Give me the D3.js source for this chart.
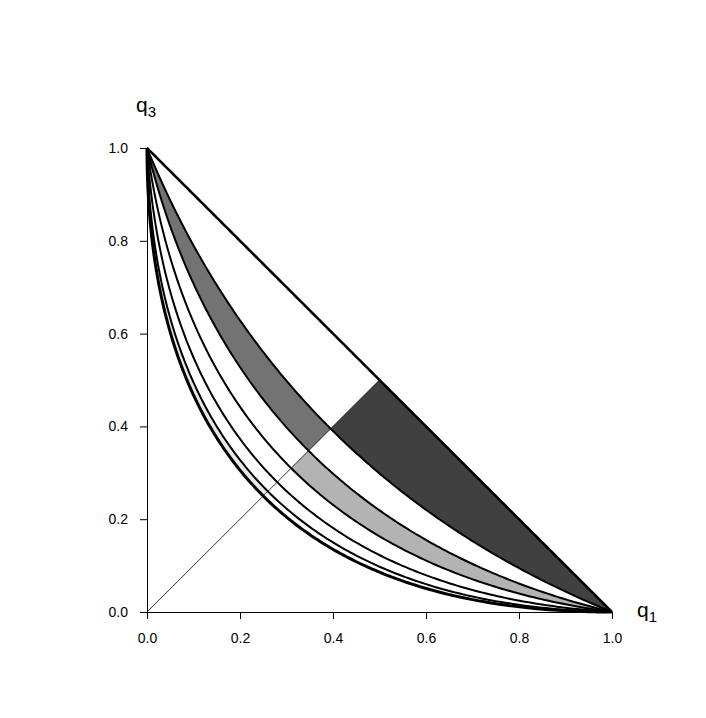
<!DOCTYPE html>
<html>
<head>
<meta charset="utf-8">
<script src="https://cdn.jsdelivr.net/npm/d3@7"></script>
<style>
  html, body { margin: 0; padding: 0; background: #fff; }
  svg { display: block; }
</style>
</head>
<body>
<svg id="chart" width="706" height="718"></svg>
<script>
// ---- data ----
// inbreeding coefficient F of each curve (F = 1 is the straight boundary q1 + q3 = 1)
const curveF = [1, 0.58, 0.39, 0.24, 0.12, 0.04, 0];
// shaded bands: between curve index a and curve index b, on one side of the diagonal q1 = q3
const bandOuter = [0, 1, 2, 5];
const bandInner = [1, 2, 3, 6];
const bandSide  = ["right", "left", "right", "left"];
const bandFill  = ["#404040", "#737373", "#b3b3b3", "#e8e8e8"];
const xTicks = [0, 0.2, 0.4, 0.6, 0.8, 1.0];
const yTicks = [0, 0.2, 0.4, 0.6, 0.8, 1.0];

// ---- drawing ----
const svg = d3.select("#chart");
const x = d3.scaleLinear().domain([0, 1]).range([147, 612]);
const y = d3.scaleLinear().domain([0, 1]).range([612, 148]);

function genotype(F, p) {
  const q = 1 - p;
  return [p * p + F * p * q, q * q + F * p * q];
}
function curvePts(F, p0, p1) {
  const n = 200, pts = [];
  for (let i = 0; i <= n; i++) {
    const p = p0 + (p1 - p0) * i / n;
    pts.push(genotype(F, p));
  }
  return pts;
}
const line = d3.line().x(d => x(d[0])).y(d => y(d[1]));

// bands
bandOuter.forEach((a, i) => {
  const b = bandInner[i];
  const [p0, p1] = bandSide[i] === "right" ? [0.5, 1] : [0, 0.5];
  const outer = curvePts(curveF[a], p0, p1);
  const inner = curvePts(curveF[b], p0, p1).reverse();
  svg.append("path")
    .attr("d", line(outer.concat(inner)) + "Z")
    .attr("fill", bandFill[i])
    .attr("stroke", "none");
});

// diagonal q1 = q3
svg.append("path")
  .attr("d", line([[0, 0], [0.5, 0.5]]))
  .attr("stroke", "#000").attr("stroke-width", 0.8).attr("fill", "none");

// curves
curveF.forEach((F, i) => {
  svg.append("path")
    .attr("d", line(curvePts(F, 0, 1)))
    .attr("fill", "none")
    .attr("stroke", "#000")
    .attr("stroke-width", i === 0 ? 2.6 : (i === curveF.length - 1 ? 3 : 2))
    .attr("stroke-linejoin", "round");
});

// axes
const fmt = d3.format(".1f");
const gx = svg.append("g").attr("transform", "translate(0,612)")
  .call(d3.axisBottom(x).tickValues(xTicks).tickFormat(fmt).tickSize(7).tickSizeOuter(0).tickPadding(14));
const gy = svg.append("g").attr("transform", "translate(147,0)")
  .call(d3.axisLeft(y).tickValues(yTicks).tickFormat(fmt).tickSize(7).tickSizeOuter(0).tickPadding(12));
[gx, gy].forEach(g => {
  g.selectAll("text").attr("font-family", "Liberation Sans, Arial, sans-serif").attr("font-size", 14).attr("fill", "#000");
  g.selectAll("line, path").attr("stroke", "#000").attr("stroke-width", 1);
});

// axis titles
function title(tx, ty, sub) {
  const t = svg.append("text").attr("x", tx).attr("y", ty)
    .attr("font-family", "Liberation Sans, Arial, sans-serif").attr("font-size", 21).attr("fill", "#000");
  t.append("tspan").text("q");
  t.append("tspan").attr("font-size", 15).attr("dy", 5).text(sub);
}
title(136, 112, "3");
title(637, 617, "1");
</script>
</body>
</html>
